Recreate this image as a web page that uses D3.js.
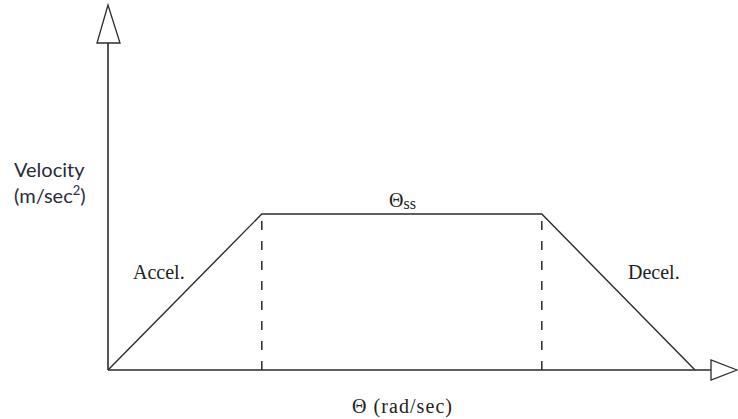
<!DOCTYPE html>
<html><head><meta charset="utf-8">
<script src="https://cdn.jsdelivr.net/npm/d3@7"></script>
<style>body{margin:0;background:#fff}svg{display:block}</style>
</head><body>
<svg id="c" width="738" height="419"></svg>
<script>
const theta = [0, 26.2, 73.9, 100];      // angular position breakpoints
const velocity = [0, 1, 1, 0];           // normalised velocity
const phaseLabels = ["Accel.", "Θ", "Decel."];
const yLabelLines = ["Velocity", "(m/sec"];
const xLabel = "Θ (rad/sec)";

const svg = d3.select("#c");
const x = d3.scaleLinear().domain([0, 100]).range([108, 695]);
const y = d3.scaleLinear().domain([0, 1]).range([370, 214]);
const ink = "#2b2b2b";

// axes
svg.append("line").attr("x1", x(0)).attr("y1", y(0)).attr("x2", x(0)).attr("y2", 43)
  .attr("stroke", ink).attr("stroke-width", 1.6);
svg.append("line").attr("x1", x(0)).attr("y1", y(0)).attr("x2", 711).attr("y2", y(0))
  .attr("stroke", ink).attr("stroke-width", 1.6);
// hollow arrowheads
svg.append("path").attr("d", `M${x(0)},5 L${x(0)-11},43 L${x(0)+12},43 Z`)
  .attr("fill", "#fff").attr("stroke", ink).attr("stroke-width", 1.3);
svg.append("path").attr("d", `M737,${y(0)} L711,${y(0)-10} L711,${y(0)+10} Z`)
  .attr("fill", "#fff").attr("stroke", ink).attr("stroke-width", 1.3);

// profile
const line = d3.line().x((d,i) => x(theta[i])).y(d => y(d));
svg.append("path").datum(velocity).attr("d", line)
  .attr("fill", "none").attr("stroke", ink).attr("stroke-width", 1.4);

// dashed dividers (drawn bottom-up)
[theta[1], theta[2]].forEach(t => {
  svg.append("line").attr("x1", x(t)).attr("x2", x(t)).attr("y1", y(0)).attr("y2", y(1))
    .attr("stroke", ink).attr("stroke-width", 1.5).attr("stroke-dasharray", "9,11");
});

const serif = "'Liberation Serif', 'Times New Roman', serif";
svg.append("text").attr("x", 133).attr("y", 279).attr("font-family", serif).attr("font-size", 20)
  .attr("fill", "#222").text(phaseLabels[0]);
svg.append("text").attr("x", 628).attr("y", 279).attr("font-family", serif).attr("font-size", 20)
  .attr("fill", "#222").text(phaseLabels[2]);
const tss = svg.append("text").attr("x", 389).attr("y", 207).attr("font-family", serif).attr("font-size", 20).attr("fill", "#222");
tss.append("tspan").text(phaseLabels[1]);
tss.append("tspan").attr("font-size", 16).attr("dy", 2).text("ss");

svg.append("text").attr("x", 352).attr("y", 413)
  .attr("font-family", serif).attr("font-size", 20).attr("textLength", 100).attr("lengthAdjust", "spacing")
  .attr("fill", "#222").text(xLabel);

const sans = "Lato, 'Open Sans', sans-serif";
svg.append("text").attr("x", 14).attr("y", 177).attr("font-family", sans).attr("font-size", 20)
  .attr("fill", "#2a2a3a").text(yLabelLines[0]);
const yl = svg.append("text").attr("x", 14).attr("y", 203).attr("font-family", sans).attr("font-size", 20).attr("fill", "#2a2a3a");
yl.append("tspan").text(yLabelLines[1]);
yl.append("tspan").attr("font-size", 13).attr("dy", -8).text("2");
yl.append("tspan").attr("dy", 8).text(")");
</script>
</body></html>
